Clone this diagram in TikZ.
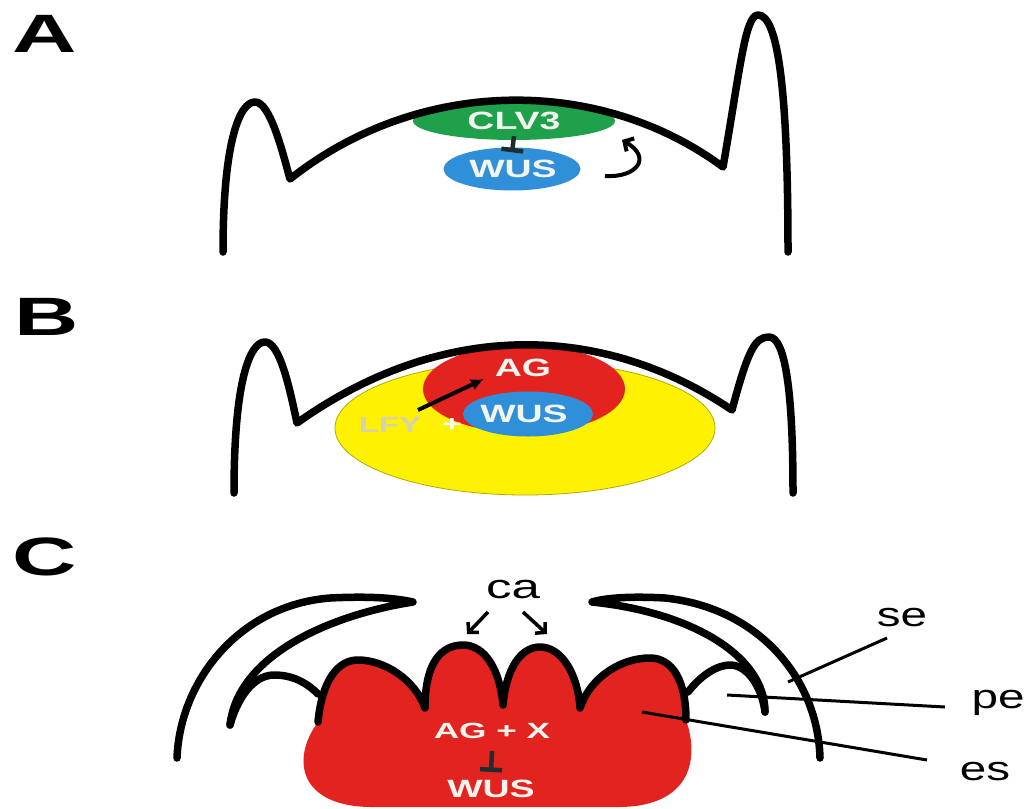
\documentclass[tikz,border=0pt]{standalone}
\usepackage{fontspec}
\setmainfont{Liberation Sans}
\usepackage{graphicx}
\usetikzlibrary{shapes.geometric,arrows.meta}

\definecolor{leafgreen}{HTML}{1FA04A}
\definecolor{skyblue}{HTML}{2F8FD8}
\definecolor{agred}{HTML}{E2231F}
\definecolor{sunyellow}{HTML}{FFF200}
\definecolor{paletext}{HTML}{F2F4EE}
\definecolor{lfygrey}{HTML}{D6D0B4}
\definecolor{barink}{HTML}{1E2E2E}

% horizontally widened lettering
\newcommand{\wtext}[2][1.5]{\scalebox{#1}[1]{#2}}

\begin{document}
\begin{tikzpicture}[x=1pt,y=-1pt,
  outline/.style={line width=7.5pt, line cap=round, line join=round},
  blob/.style={ellipse, inner sep=0pt, draw=none},
  lbl/.style={font=\fontsize{25}{25}\selectfont\bfseries, text=paletext, inner sep=0pt},
  panel/.style={font=\fontsize{54}{54}\selectfont\bfseries, inner sep=0pt},
  organ/.style={font=\fontsize{34}{34}\selectfont, inner sep=0pt},
  inhib/.style={line width=4.5pt, draw=barink, -{Bar[width=22pt]}},
  actarrow/.style={line width=4pt, -{Latex[length=13pt,width=12pt]}},
  barb/.style={line width=3.5pt, -{Straight Barb[length=7pt,width=15pt]}},
  leader/.style={line width=3pt}]

\useasboundingbox (0,0) rectangle (1030,808);

% ---------- panel letters ----------
\node[panel] (pA) at (45,34) {\wtext[1.65]{A}};
\node[panel] (pB) at (47,317) {\wtext[1.65]{B}};
\node[panel] (pC) at (45,557) {\wtext[1.65]{C}};

% ---------- A: shoot apical meristem ----------
\node[blob, fill=leafgreen, minimum width=202pt, minimum height=38pt] (clv) at (514,121) {};
\node[lbl] (clvtxt) at (514,121) {\wtext{CLV3}};
\node[blob, fill=skyblue, minimum width=137pt, minimum height=43pt] (wusA) at (512,169) {};
\node[lbl] (wusAtxt) at (513,169) {\wtext{WUS}};
\draw[inhib] ([yshift=4pt]clv.south) -- ([yshift=-5pt]wusA.north);

\coordinate (curlA) at (605,176);
\coordinate (curlB) at (622,140);
\draw[barb, line width=4pt] (curlA) .. controls (636,178) and (653,158) .. (curlB);

\draw[outline] (223,252) .. controls (223,140) and (240,102) .. (255,102)
  .. controls (270,102) and (282,150) .. (290,179)
  .. controls (420,76) and (600,76) .. (723,167)
  .. controls (740,70) and (745,15) .. (758,15)
  .. controls (778,15) and (788,90) .. (788,252);

% ---------- B: floral meristem ----------
\begin{scope}
  \clip (297,423) .. controls (440,321) and (600,321) .. (732,410)
        -- (732,520) -- (297,520) -- cycle;
  \node[blob, fill=sunyellow, draw=sunyellow!70!black, line width=0.8pt,
        minimum width=380pt, minimum height=134pt] (yel) at (525,428) {};
  \node[blob, fill=agred, minimum width=202pt, minimum height=88pt] (agB) at (524,389) {};
\end{scope}
\node[blob, fill=skyblue, minimum width=130pt, minimum height=45pt] (wusB) at (528,414) {};
\node[lbl] (wusBtxt) at (524,414) {\wtext{WUS}};
\node[lbl] (agtxt) at (523,368) {\wtext{AG}};
\node[lbl, text=lfygrey, font=\fontsize{22}{22}\selectfont\bfseries] (lfy) at (390,425) {\wtext{LFY}};
\node[lbl, text=white, font=\fontsize{22}{22}\selectfont\bfseries] (plus) at (452,425) {\wtext{+}};
\coordinate (lfyArrow) at (418,410);
\coordinate (agArrow) at (484,379);
\draw[actarrow] (lfyArrow) -- (agArrow);

\draw[outline] (234,493) .. controls (234,380) and (250,342) .. (265,342)
  .. controls (280,342) and (290,390) .. (297,423)
  .. controls (440,321) and (600,321) .. (732,410)
  .. controls (748,350) and (755,337) .. (769,337)
  .. controls (785,337) and (793,390) .. (793,493);

% ---------- C: flower with organ whorls ----------
% red floral body with four carpel/stamen lobes
\fill[agred] (318,722) .. controls (322,680) and (338,660) .. (358,660)
  .. controls (385,660) and (415,680) .. (425,708)
  .. controls (425,660) and (443,645) .. (463,645)
  .. controls (485,645) and (500,670) .. (503,705)
  .. controls (506,670) and (520,647) .. (540,647)
  .. controls (562,647) and (578,675) .. (580,708)
  .. controls (590,678) and (620,658) .. (650,658)
  .. controls (672,658) and (686,680) .. (686,720)
  .. controls (700,760) and (690,806) .. (620,807)
  -- (370,807) .. controls (300,806) and (290,760) .. (318,722) -- cycle;
\draw[outline] (318,722) .. controls (322,680) and (338,660) .. (358,660)
  .. controls (385,660) and (415,680) .. (425,708)
  .. controls (425,660) and (443,645) .. (463,645)
  .. controls (485,645) and (500,670) .. (503,705)
  .. controls (506,670) and (520,647) .. (540,647)
  .. controls (562,647) and (578,675) .. (580,708)
  .. controls (590,678) and (620,658) .. (650,658)
  .. controls (672,658) and (686,680) .. (686,720);

% sepals
\draw[outline] (177,758) .. controls (180,680) and (240,605) .. (330,598)
  .. controls (370,596) and (395,598) .. (413,602)
  .. controls (330,615) and (238,655) .. (230,725);
\draw[outline] (820,758) .. controls (818,680) and (760,608) .. (665,598)
  .. controls (630,596) and (605,598) .. (592,602)
  .. controls (690,612) and (765,655) .. (765,712);
% petals
\draw[outline] (230,725) .. controls (240,690) and (258,675) .. (274,675)
  .. controls (292,675) and (306,682) .. (318,694);
\draw[outline] (688,692) .. controls (702,674) and (718,665) .. (730,665)
  .. controls (748,665) and (762,688) .. (765,712);

\node[lbl, font=\fontsize{22}{22}\selectfont\bfseries] (agx) at (492,731) {\wtext[1.6]{AG + X}};
\node[lbl] (wusC) at (491,789) {\wtext{WUS}};
\draw[inhib] ([yshift=-12pt]agx.south) -- ([yshift=8pt]wusC.north);

\node[organ] (ca) at (513,590) {\wtext{ca}};
\coordinate (caL1) at (488,612);
\coordinate (caL2) at (467,634);
\coordinate (caR1) at (523,612);
\coordinate (caR2) at (547,634);
\draw[barb] (caL1) -- (caL2);
\draw[barb] (caR1) -- (caR2);

\node[organ, anchor=center] (se) at (902,618) {\wtext[1.4]{se}};
\node[organ, anchor=center] (pe) at (998,703) {\wtext[1.4]{pe}};
\node[organ, anchor=center] (es) at (985,772) {\wtext[1.4]{es}};
\coordinate (seTip) at (788,682);
\coordinate (peTip) at (727,695);
\coordinate (esTip) at (642,712);
\draw[leader] ([shift={(-15pt,-20pt)}]se.center) -- (seTip);
\draw[leader] ([shift={(-53pt,-4pt)}]pe.center) -- (peTip);
\draw[leader] ([shift={(-58pt,12pt)}]es.center) -- (esTip);

\end{tikzpicture}
\end{document}
